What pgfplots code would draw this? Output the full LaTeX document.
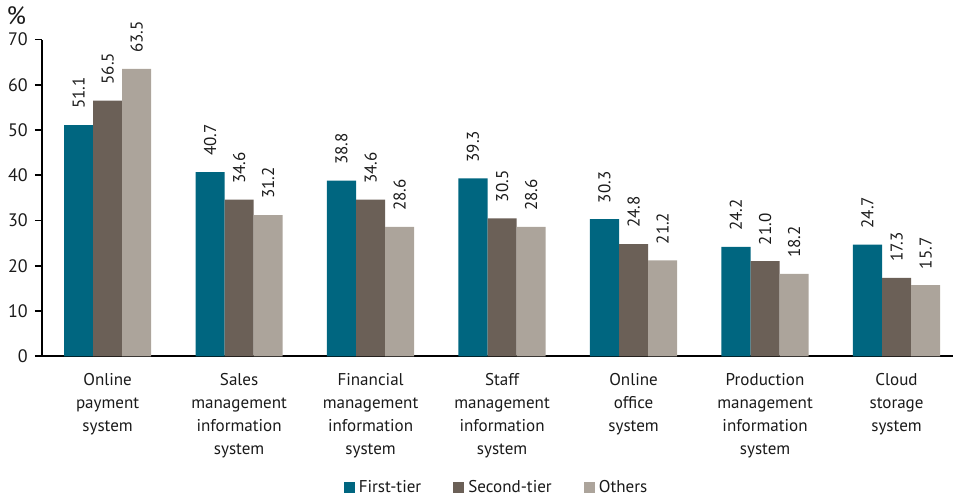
\documentclass[border=0pt]{standalone}
\usepackage{fontspec}
\setmainfont{PT Sans}
\usepackage{pgfplots}
\pgfplotsset{compat=1.18}
\definecolor{tierA}{RGB}{0,102,128}
\definecolor{tierB}{RGB}{107,96,87}
\definecolor{tierC}{RGB}{172,164,155}
\definecolor{txt}{RGB}{26,26,26}
\begin{document}
\begin{tikzpicture}
\begin{axis}[
  scale only axis,
  width=454.5pt, height=158pt,
  font=\fontsize{8.5}{10}\selectfont,
  text=txt,
  ybar=0pt, bar width=14.5pt,
  xmin=-0.5, xmax=6.43,
  ymin=0, ymax=70,
  ytick={0,10,...,70},
  yticklabel style={font=\fontsize{9}{10}\selectfont},
  xtick={0,...,6},
  xticklabels={
    Online\\payment\\system,
    Sales\\management\\information\\system,
    Financial\\management\\information\\system,
    Staff\\management\\information\\system,
    Online\\office\\system,
    Production\\management\\information\\system,
    Cloud\\storage\\system},
  xticklabel style={align=center, font=\fontsize{8.5}{11.5}\selectfont, yshift=-1.5pt},
  major x tick style={draw=none},
  axis lines*=left,
  axis line style={black, line width=0.9pt},
  tick align=outside,
  major tick length=3.5pt,
  major y tick style={black, line width=0.9pt},
  /pgf/number format/assume math mode=true,
  ylabel={\fontsize{12.5}{14}\selectfont\%},
  ylabel style={rotate=-90, at={(axis description cs:-0.028,1.075)}, anchor=center},
  nodes near coords,
  nodes near coords style={rotate=90, anchor=west, yshift=0pt, xshift=4.5pt,
    font=\fontsize{8.5}{10}\selectfont,
    /pgf/number format/.cd, fixed, fixed zerofill, precision=1, assume math mode=true},
  legend style={draw=none, at={(axis description cs:0.5,-0.415)}, anchor=center,
    legend columns=-1, font=\fontsize{8.5}{10}\selectfont,
    /tikz/every even column/.append style={column sep=14pt}},
  legend image code/.code={\fill[#1] (0pt,-2.75pt) rectangle (5.5pt,2.75pt);},
]
\addplot[fill=tierA, draw=none] coordinates {(0,51.1) (1,40.7) (2,38.8) (3,39.3) (4,30.3) (5,24.2) (6,24.7)};
\addplot[fill=tierB, draw=none] coordinates {(0,56.5) (1,34.6) (2,34.6) (3,30.5) (4,24.8) (5,21.0) (6,17.3)};
\addplot[fill=tierC, draw=none] coordinates {(0,63.5) (1,31.2) (2,28.6) (3,28.6) (4,21.2) (5,18.2) (6,15.7)};
\legend{First-tier, Second-tier, Others}
\end{axis}
\end{tikzpicture}
\end{document}
